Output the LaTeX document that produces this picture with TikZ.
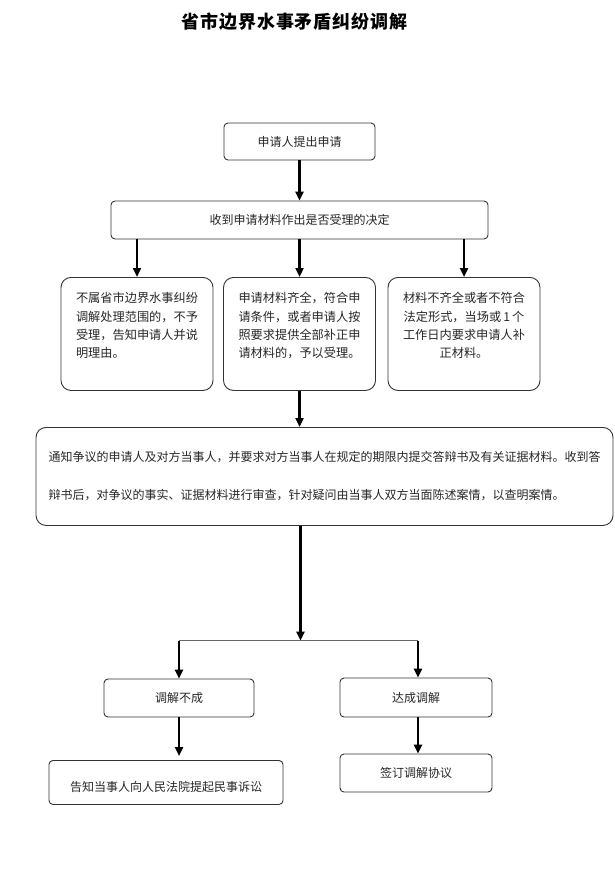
\documentclass[tikz,border=0pt]{standalone}
\usepackage{fontspec}
\setmainfont{Noto Sans CJK SC}
\usetikzlibrary{arrows.meta}

\tikzset{
  box/.style={draw=black!80, line width=0.9pt, rounded corners=4pt,
    inner sep=0pt, text=black!85, font=\fontsize{12}{18.3}\selectfont},
  roundbox/.style={box, rounded corners=10pt, anchor=north,
    minimum width=152pt, text width=122pt, inner xsep=15pt,
    text height=25.5pt, text depth=87.5pt,
    font=\fontsize{12.2}{18.3}\selectfont},
  flow/.style={-{Triangle[length=9pt,width=8pt]}, line width=2.4pt, black},
}

\begin{document}
\begin{tikzpicture}[x=1pt, y=-1pt]
  \useasboundingbox (0,0) rectangle (614,896);

  % Title
  \node[font=\bfseries\fontsize{18}{18}\selectfont\addfontfeature{LetterSpace=5}]
    (title) at (294.5,22) {省市边界水事矛盾纠纷调解};

  % Application and decision
  \node[box, minimum width=151pt, minimum height=37pt] (apply) at (299.5,141.5) {申请人提出申请};
  \node[box, minimum width=377pt, minimum height=38pt] (decide) at (299.5,220) {收到申请材料作出是否受理的决定};

  % Three outcomes
  \node[roundbox, align=left] (reject) at (137,277)
    {不属省市边界水事纠纷\\调解处理范围的，不予\\受理，告知申请人并说\\明理由。};
  \node[roundbox, align=left] (accept) at (299.5,277)
    {申请材料齐全，符合申\\请条件，或者申请人按\\照要求提供全部补正申\\请材料的，予以受理。};
  \node[roundbox, align=center] (supply) at (464,277)
    {材料不齐全或者不符合\\\mbox{法定形式，当场或\,1\,个}\\工作日内要求申请人补\\正材料。};

  % Notice and review
  \node[box, rounded corners=10pt, anchor=north, minimum width=577pt,
    text width=552pt, inner xsep=12.5pt, align=left,
    text height=34.5pt, text depth=63.5pt, font=\fontsize{12}{38}\selectfont]
    (notice) at (324.5,427)
    {通知争议的申请人及对方当事人，并要求对方当事人在规定的期限内提交答辩书及有关证据材料。收到答\\辩书后，对争议的事实、证据材料进行审查，针对疑问由当事人双方当面陈述案情，以查明案情。};

  % Junction
  \coordinate (jc) at (300.5,640.7);
  \coordinate (jl) at (179,640.7);
  \coordinate (jr) at (418,640.7);

  % Mediation results
  \node[box, minimum width=150pt, minimum height=38pt] (fail) at (179,698) {调解不成};
  \node[box, minimum width=152pt, minimum height=39pt] (agree) at (416,697.5) {达成调解};
  \node[box, anchor=north, minimum width=234pt, text height=31.5pt, text depth=12.5pt]
    (court) at (166,760) {告知当事人向人民法院提起民事诉讼};
  \node[box, minimum width=152pt, minimum height=38pt] (sign) at (416,773) {签订调解协议};

  % Connectors
  \draw[flow] (apply) -- (decide);
  \draw[flow] (decide.south -| reject.north) -- (reject.north);
  \draw[flow] (decide.south -| accept.north) -- (accept.north);
  \draw[flow] (decide.south -| supply.north) -- (supply.north);
  \draw[flow] (accept.south) -- (accept.south |- notice.north);
  \draw[flow] (notice.south -| jc) -- (jc);
  \draw[black!60, line width=1.4pt] (jl) -- (jr);
  \draw[flow] (jl) -- (jl |- fail.north);
  \draw[flow] (jr) -- (jr |- agree.north);
  \draw[flow, shorten >=4pt] (fail.south) -- (fail.south |- court.north);
  \draw[flow] (agree.south -| jr) -- (jr |- sign.north);

\end{tikzpicture}
\end{document}
